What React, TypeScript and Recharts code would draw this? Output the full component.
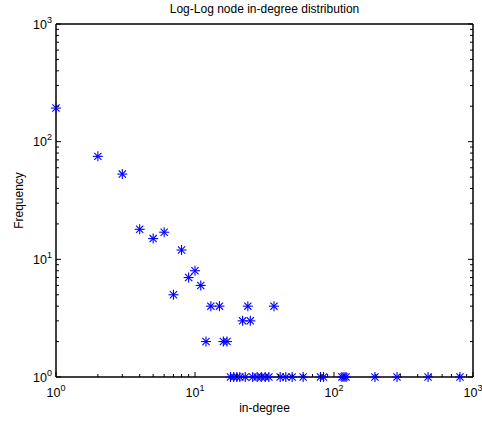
import React from 'react';
import { ScatterChart, Scatter, XAxis, YAxis } from 'recharts';

const chartTitle = 'Log-Log node in-degree distribution';
const xAxisTitle = 'in-degree';
const yAxisTitle = 'Frequency';

// degrees with frequency above 1
const inDegreeUpper = [1, 2, 3, 4, 5, 6, 7, 8, 9, 10, 11, 12, 13, 15, 16, 17, 22, 24, 25, 37];
const frequencyUpper = [193, 75, 53, 18, 15, 17, 5, 12, 7, 8, 6, 2, 4, 4, 2, 2, 3, 4, 3, 4];
// degrees that occur once
const inDegreeOnce = [18, 19, 20, 21, 23, 26, 28, 30, 32, 34, 41, 45, 50, 60, 80, 84, 114, 118, 122, 197, 284, 475, 806];
const frequencyOnce = inDegreeOnce.map(() => 1);

const logTicks = [
  1, 2, 3, 4, 5, 6, 7, 8, 9,
  10, 20, 30, 40, 50, 60, 70, 80, 90,
  100, 200, 300, 400, 500, 600, 700, 800, 900, 1000,
];
const axisDomain: [number, number] = [1, 1000];

const data = [
  ...inDegreeUpper.map((d, i) => ({ x: d, y: frequencyUpper[i] })),
  ...inDegreeOnce.map((d, i) => ({ x: d, y: frequencyOnce[i] })),
];

const FONT = '"Liberation Sans", Arial, Helvetica, sans-serif';
const MAJOR = 5;
const MINOR = 3;
const AXIS_STROKE = { stroke: '#000', strokeWidth: 1.5 };

const exponentOf = (v: number) => Math.round(Math.log10(v));
const isMajor = (v: number) => Math.abs(Math.log10(v) - exponentOf(v)) < 1e-9;

const PowerLabel = ({ x, y, exp, anchor }: any) => (
  <text x={x} y={y} textAnchor={anchor} fontSize={12.5} fontFamily={FONT} fill="#000">
    10
    <tspan dy={-6} fontSize={9}>{exp}</tspan>
  </text>
);

const BottomTick = (props: any) => {
  const { x, y, payload } = props;
  const v = payload.value;
  const major = isMajor(v);
  return (
    <g>
      <line x1={x} y1={y} x2={x} y2={y - (major ? MAJOR : MINOR)} stroke="#000" strokeWidth={1} />
      {major && <PowerLabel x={x} y={y + 20} exp={exponentOf(v)} anchor="middle" />}
    </g>
  );
};

const TopTick = (props: any) => {
  const { x, y, payload } = props;
  const major = isMajor(payload.value);
  return <line x1={x} y1={y} x2={x} y2={y + (major ? MAJOR : MINOR)} stroke="#000" strokeWidth={1} />;
};

const LeftTick = (props: any) => {
  const { x, y, payload } = props;
  const v = payload.value;
  const major = isMajor(v);
  return (
    <g>
      <line x1={x} y1={y} x2={x + (major ? MAJOR : MINOR)} y2={y} stroke="#000" strokeWidth={1} />
      {major && <PowerLabel x={x - 4} y={y + 4.5} exp={exponentOf(v)} anchor="end" />}
    </g>
  );
};

const RightTick = (props: any) => {
  const { x, y, payload } = props;
  const major = isMajor(payload.value);
  return <line x1={x} y1={y} x2={x - (major ? MAJOR : MINOR)} y2={y} stroke="#000" strokeWidth={1} />;
};

const Asterisk = (props: any) => {
  const { cx, cy } = props;
  if (cx == null || cy == null) return null;
  const r = 5;
  const d = 3.6;
  return (
    <g stroke="#0000ff" strokeWidth={1.1}>
      <line x1={cx - r} y1={cy} x2={cx + r} y2={cy} />
      <line x1={cx} y1={cy - r} x2={cx} y2={cy + r} />
      <line x1={cx - d} y1={cy - d} x2={cx + d} y2={cy + d} />
      <line x1={cx - d} y1={cy + d} x2={cx + d} y2={cy - d} />
    </g>
  );
};

export default function App() {
  return (
    <div style={{ position: 'absolute', left: 0, top: 0, background: '#fff' }}>
      <ScatterChart width={482} height={423} margin={{ top: 23, right: 8, bottom: 45, left: 55 }}>
        <XAxis
          xAxisId="b"
          dataKey="x"
          type="number"
          scale="log"
          domain={axisDomain}
          ticks={logTicks}
          interval={0}
          height={1}
          tickSize={0}
          tickMargin={0}
          tickLine={false}
          tick={BottomTick}
          axisLine={AXIS_STROKE}
          label={{
            content: (p: any) => {
              const vb = p.viewBox;
              return (
                <text x={vb.x + vb.width / 2} y={vb.y + 35} textAnchor="middle" fontSize={12} fontFamily={FONT} fill="#000">
                  {xAxisTitle}
                </text>
              );
            },
          }}
        />
        <XAxis
          xAxisId="t"
          orientation="top"
          type="number"
          scale="log"
          domain={axisDomain}
          allowDataOverflow
          ticks={logTicks}
          interval={0}
          height={1}
          tickSize={0}
          tickMargin={0}
          tickLine={false}
          tick={TopTick}
          axisLine={AXIS_STROKE}
          label={{
            content: (p: any) => {
              const vb = p.viewBox;
              return (
                <text x={vb.x + vb.width / 2} y={vb.y - 10} textAnchor="middle" fontSize={12} fontFamily={FONT} fill="#000">
                  {chartTitle}
                </text>
              );
            },
          }}
        />
        <YAxis
          yAxisId="l"
          dataKey="y"
          type="number"
          scale="log"
          domain={axisDomain}
          ticks={logTicks}
          interval={0}
          width={1}
          tickSize={0}
          tickMargin={0}
          tickLine={false}
          tick={LeftTick}
          axisLine={AXIS_STROKE}
          label={{
            content: (p: any) => {
              const vb = p.viewBox;
              const lx = vb.x - 32;
              const ly = vb.y + vb.height / 2;
              return (
                <text x={lx} y={ly} transform={`rotate(-90, ${lx}, ${ly})`} textAnchor="middle" fontSize={12} fontFamily={FONT} fill="#000">
                  {yAxisTitle}
                </text>
              );
            },
          }}
        />
        <YAxis
          yAxisId="r"
          orientation="right"
          type="number"
          scale="log"
          domain={axisDomain}
          allowDataOverflow
          ticks={logTicks}
          interval={0}
          width={1}
          tickSize={0}
          tickMargin={0}
          tickLine={false}
          tick={RightTick}
          axisLine={AXIS_STROKE}
        />
        <Scatter
          data={data}
          xAxisId="b"
          yAxisId="l"
          fill="#0000ff"
          shape={Asterisk}
          isAnimationActive={false}
        />
      </ScatterChart>
    </div>
  );
}
